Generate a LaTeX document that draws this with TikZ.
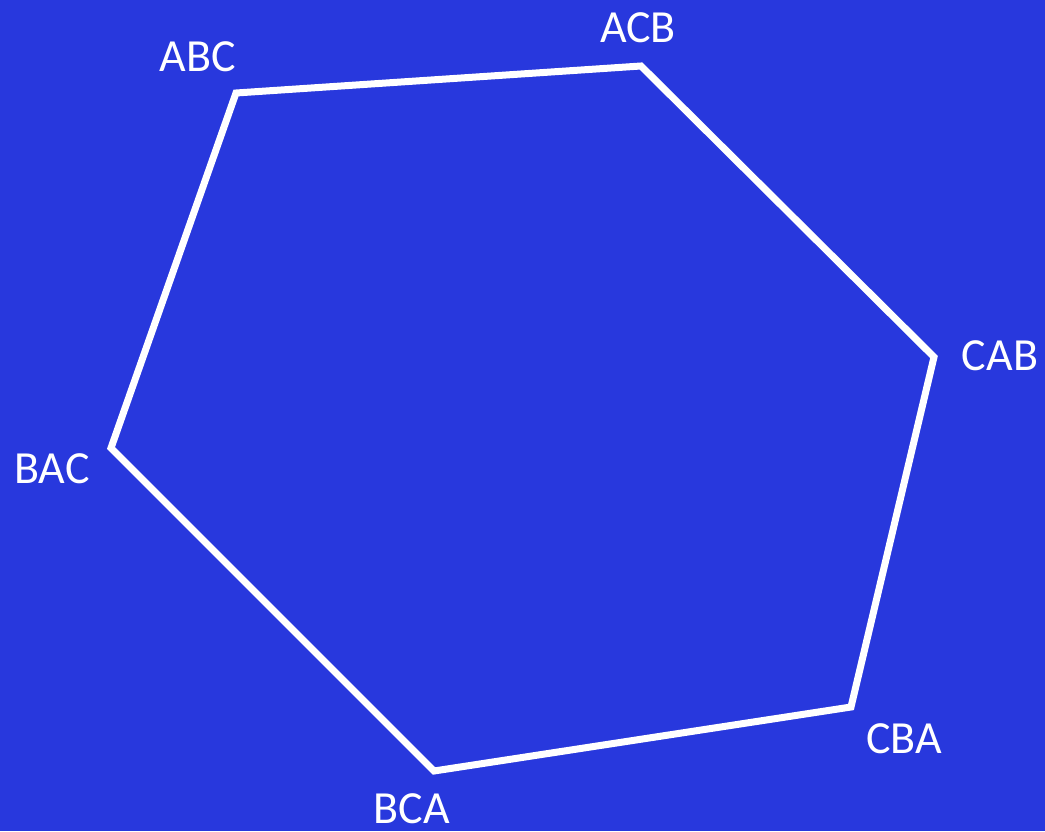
\documentclass[tikz,border=0pt]{standalone}
\usepackage{fontspec}
\setmainfont{Carlito}
\definecolor{bgblue}{RGB}{40,56,221}
\begin{document}
\begin{tikzpicture}[x=1pt,y=-1pt,
  lbl/.style={text=white,font=\fontsize{46}{55}\selectfont,anchor=base,inner sep=0pt},
  edge/.style={draw=white,line width=7pt,line join=miter}]
\fill[bgblue] (0,0) rectangle (1045,831);
\useasboundingbox (0,0) rectangle (1045,831);
\coordinate (vABC) at (236,93);
\coordinate (vACB) at (641,66);
\coordinate (vCAB) at (934,357);
\coordinate (vCBA) at (851,707);
\coordinate (vBCA) at (434,771);
\coordinate (vBAC) at (111,448);
\draw[edge] (vABC) -- (vACB) -- (vCAB) -- (vCBA) -- (vBCA) -- (vBAC) -- cycle;
\node[lbl] (ABC) at (198,71) {ABC};
\node[lbl] (ACB) at (638,42) {ACB};
\node[lbl] (CAB) at (1000,370) {CAB};
\node[lbl] (BAC) at (52,483) {BAC};
\node[lbl] (CBA) at (904,753) {CBA};
\node[lbl] (BCA) at (412,823) {BCA};
\end{tikzpicture}
\end{document}
